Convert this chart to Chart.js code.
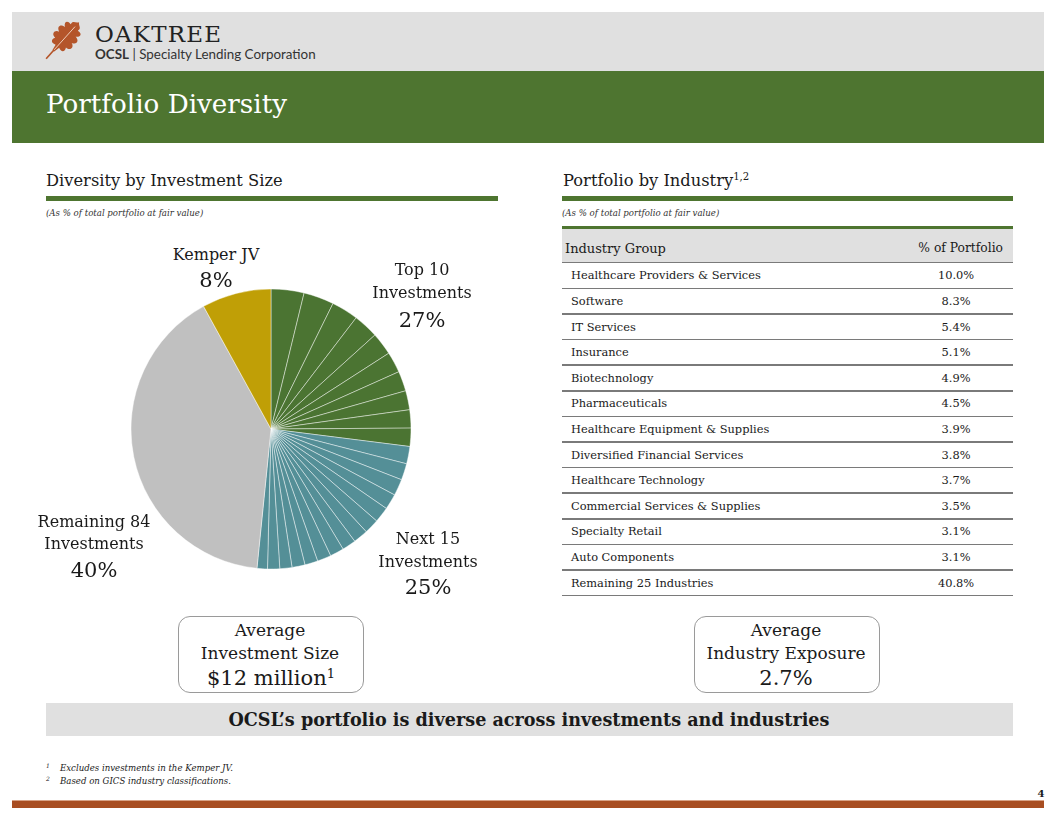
<!DOCTYPE html>
<html>
<head>
<meta charset="utf-8">
<script src="https://cdn.jsdelivr.net/npm/chart.js@4.4.0/dist/chart.umd.min.js"></script>
<style>
  html, body { margin: 0; padding: 0; background: #ffffff; }
  body { width: 1056px; height: 816px; position: relative; overflow: hidden; font-family: "DejaVu Serif", serif; color: #1a1a1a; }
  .abs { position: absolute; white-space: nowrap; line-height: 1; }
  .c { transform: translate(-50%, -50%); text-align: center; }
  .l { transform: translate(0, -50%); }
  .r { transform: translate(-100%, -50%); }
  sup { font-size: 0.62em; vertical-align: 0; position: relative; top: -0.55em; }
</style>
</head>
<body>
<script>
// ---------- DATA ----------
const categories = ['Top 10 Investments', 'Next 15 Investments', 'Remaining 84 Investments', 'Kemper JV'];
const categoryShares = [27, 25, 40, 8];
const top10Values = [3.8, 3.5, 3.1, 2.9, 2.6, 2.4, 2.3, 2.2, 2.1, 2.1];
const next15Values = [2.0, 1.9, 1.9, 1.8, 1.8, 1.7, 1.7, 1.6, 1.6, 1.6, 1.5, 1.5, 1.4, 1.4, 1.2];
const remainingValues = [40.4];
const kemperValues = [8];
const industryNames = ['Healthcare Providers & Services', 'Software', 'IT Services', 'Insurance', 'Biotechnology',
  'Pharmaceuticals', 'Healthcare Equipment & Supplies', 'Diversified Financial Services', 'Healthcare Technology',
  'Commercial Services & Supplies', 'Specialty Retail', 'Auto Components', 'Remaining 25 Industries'];
const industryShares = ['10.0%', '8.3%', '5.4%', '5.1%', '4.9%', '4.5%', '3.9%', '3.8%', '3.7%', '3.5%', '3.1%', '3.1%', '40.8%'];
const averageInvestmentSize = '$12 million';
const averageIndustryExposure = '2.7%';
</script>

<!-- header bands -->
<div class="abs" style="left:12px;top:12px;width:1032px;height:59px;background:#e0e0e0;"></div>
<div class="abs" style="left:12px;top:71px;width:1032px;height:72px;background:#4e7530;"></div>
<svg class="abs" style="left:36px;top:14px;" width="54" height="54" viewBox="0 0 54 54">
  <g transform="translate(27,26) rotate(42) scale(1.2) translate(-12,-20)">
    <path fill="#b4552a" d="M12,0 C14,3 17,2 16,6 C20,5 22,8 18,11 C22,11 24,15 19,17 C23,18 23,23 18,23 C20,26 18,29 14,27 L13,32 L11,32 L10,27 C6,29 4,26 6,23 C1,23 1,18 5,17 C0,15 2,11 6,11 C2,8 4,5 8,6 C7,2 10,3 12,0 Z"/>
    <path stroke="#b4552a" stroke-width="1.4" fill="none" d="M12,31 L12,41"/>
    <path stroke="#f3d9c8" stroke-width="0.7" fill="none" d="M12,5 L12,31"/>
  </g>
</svg>
<div class="abs l" style="left:95px;top:34px;font-size:23px;letter-spacing:1.2px;color:#222;">OAKTREE</div>
<div class="abs l" style="left:95px;top:55px;font-family:Lato,sans-serif;font-size:13.4px;color:#333;"><b>OCSL</b> | Specialty Lending Corporation</div>
<div class="abs l" style="left:46px;top:104px;font-size:26.2px;color:#ffffff;">Portfolio Diversity</div>

<!-- left section -->
<div class="abs l" style="left:46px;top:181px;font-size:16.3px;">Diversity by Investment Size</div>
<div class="abs" style="left:46px;top:196px;width:452px;height:5px;background:#4e7530;"></div>
<div class="abs l" style="left:46px;top:213px;font-size:8.6px;font-style:italic;color:#333;">(As % of total portfolio at fair value)</div>

<canvas id="pie" class="abs" width="300" height="300" style="left:121px;top:279px;"></canvas>
<div id="pieLabels"></div>

<!-- right section -->
<div class="abs l" style="left:563px;top:181px;font-size:16.3px;">Portfolio by Industry<sup>1,2</sup></div>
<div class="abs" style="left:562px;top:196px;width:451px;height:5px;background:#4e7530;"></div>
<div class="abs l" style="left:562px;top:213px;font-size:8.6px;font-style:italic;color:#333;">(As % of total portfolio at fair value)</div>
<div class="abs" style="left:562px;top:226px;width:451px;height:3px;background:#4e7530;"></div>
<div class="abs" style="left:562px;top:229px;width:451px;height:33px;background:#e0e0e0;border-bottom:1.5px solid #7a7a7a;"></div>
<div class="abs l" style="left:565px;top:248px;font-size:13px;">Industry Group</div>
<div class="abs r" style="left:1003px;top:248px;font-size:12.3px;">% of Portfolio</div>
<div id="table"></div>

<!-- boxes -->
<div class="abs" style="left:178px;top:616px;width:184px;height:75px;border:1px solid #9a9a9a;border-radius:12px;"></div>
<div class="abs" style="left:694px;top:616px;width:184px;height:75px;border:1px solid #9a9a9a;border-radius:12px;"></div>
<div id="boxes"></div>

<!-- banner -->
<div class="abs" style="left:46px;top:703px;width:967px;height:33px;background:#e0e0e0;"></div>
<div class="abs c" style="left:529px;top:720px;font-size:17.6px;font-weight:bold;">OCSL’s portfolio is diverse across investments and industries</div>

<!-- footnotes -->
<div class="abs l" style="left:46px;top:766px;font-size:6px;font-style:italic;">1</div>
<div class="abs l" style="left:60px;top:768px;font-size:8.6px;font-style:italic;">Excludes investments in the Kemper JV.</div>
<div class="abs l" style="left:46px;top:779px;font-size:6px;font-style:italic;">2</div>
<div class="abs l" style="left:60px;top:781px;font-size:8.6px;font-style:italic;">Based on GICS industry classifications.</div>
<div class="abs c" style="left:1041px;top:794px;font-size:10px;font-weight:bold;">4</div>
<div class="abs" style="left:12px;top:800px;width:1032px;height:7px;background:#a84e22;border-top:1px solid #d8a387;"></div>

<script>
function place(parent, html, cx, cy, size, cls, extra) {
  const d = document.createElement('div');
  d.className = 'abs ' + (cls || 'c');
  d.style.left = cx + 'px';
  d.style.top = cy + 'px';
  d.style.fontSize = size + 'px';
  if (extra) d.style.cssText += extra;
  d.innerHTML = html;
  parent.appendChild(d);
  return d;
}

// pie labels
const pl = document.getElementById('pieLabels');
const labelSpec = [
  { lines: ['Kemper JV'], pct: categoryShares[3], x: 216, ys: [255], py: 280 },
  { lines: ['Top 10', 'Investments'], pct: categoryShares[0], x: 422, ys: [270, 293], py: 320 },
  { lines: ['Remaining 84', 'Investments'], pct: categoryShares[2], x: 94, ys: [522, 544], py: 570 },
  { lines: ['Next 15', 'Investments'], pct: categoryShares[1], x: 428, ys: [539, 562], py: 587 }
];
labelSpec.forEach(s => {
  s.lines.forEach((t, i) => place(pl, t, s.x, s.ys[i], 16));
  place(pl, s.pct + '%', s.x, s.py, 21);
});

// table rows
const tb = document.getElementById('table');
const rowH = 25.6, rowTop = 263.5;
industryNames.forEach((name, i) => {
  const top = rowTop + i * rowH;
  const line = document.createElement('div');
  line.className = 'abs';
  line.style.cssText += `left:562px;top:${top + rowH - 1.5}px;width:451px;height:1.5px;background:#7a7a7a;`;
  tb.appendChild(line);
  place(tb, name, 571, top + rowH / 2, 11.4, 'l');
  place(tb, industryShares[i], 956, top + rowH / 2, 11.4, 'c');
});

// boxes
const bx = document.getElementById('boxes');
place(bx, 'Average', 270, 630, 17);
place(bx, 'Investment Size', 270, 653, 17);
place(bx, averageInvestmentSize + '<sup>1</sup>', 271, 678, 21);
place(bx, 'Average', 786, 630, 17);
place(bx, 'Industry Exposure', 786, 653, 17);
place(bx, averageIndustryExposure, 786, 678, 21);

// pie chart
const groupColors = ['#4b7432', '#548f97', '#c0c0c0', '#c09f06'];
const pieValues = [...top10Values, ...next15Values, ...remainingValues, ...kemperValues];
const pieColors = [
  ...top10Values.map(() => groupColors[0]),
  ...next15Values.map(() => groupColors[1]),
  ...remainingValues.map(() => groupColors[2]),
  ...kemperValues.map(() => groupColors[3])
];
const pieLabels = [
  ...top10Values.map((_, i) => categories[0] + ' #' + (i + 1)),
  ...next15Values.map((_, i) => categories[1] + ' #' + (i + 1)),
  categories[2], categories[3]
];
new Chart(document.getElementById('pie'), {
  type: 'pie',
  data: {
    labels: pieLabels,
    datasets: [{
      data: pieValues,
      backgroundColor: pieColors,
      borderColor: 'rgba(255,255,255,0.55)',
      borderWidth: 0.8
    }]
  },
  options: {
    responsive: false,
    animation: false,
    radius: 140,
    layout: { padding: 0 },
    plugins: { legend: { display: false }, tooltip: { enabled: false } }
  }
});
</script>
</body>
</html>
